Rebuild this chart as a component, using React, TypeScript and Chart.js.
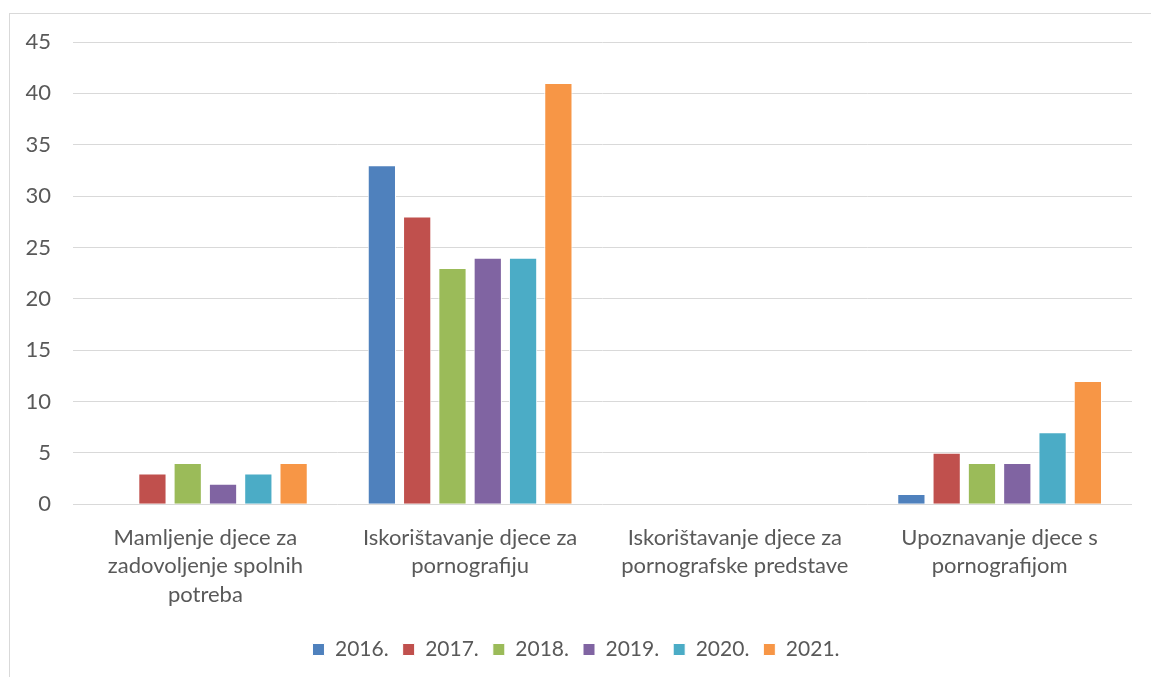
import React, { useEffect, useRef } from "react";
import { Chart, registerables } from "chart.js";

Chart.register(...registerables);

const categories: string[][] = [
  ["Mamljenje djece za", "zadovoljenje spolnih", "potreba"],
  ["Iskorištavanje djece za", "pornografiju"],
  ["Iskorištavanje djece za", "pornografske predstave"],
  ["Upoznavanje djece s", "pornografijom"],
];

const seriesNames = ["2016.", "2017.", "2018.", "2019.", "2020.", "2021."];
const values2016 = [0, 33, 0, 1];
const values2017 = [3, 28, 0, 5];
const values2018 = [4, 23, 0, 4];
const values2019 = [2, 24, 0, 4];
const values2020 = [3, 24, 0, 7];
const values2021 = [4, 41, 0, 12];
const seriesColors = ["#4F81BD", "#C0504D", "#9BBB59", "#8064A2", "#4BACC6", "#F79646"];

export default function App() {
  const ref = useRef<HTMLCanvasElement | null>(null);
  useEffect(() => {
    document.body.style.margin = "0";
    const all = [values2016, values2017, values2018, values2019, values2020, values2021];
    const chart = new Chart(ref.current!, {
      type: "bar",
      data: {
        labels: categories,
        datasets: all.map((d, i) => ({
          label: seriesNames[i],
          data: d,
          backgroundColor: seriesColors[i],
          borderColor: "#ffffff",
          borderWidth: 1,
          categoryPercentage: 0.8,
          barPercentage: 0.8,
        })),
      },
      options: {
        animation: false,
        responsive: false,
        layout: { padding: { left: 20, right: 19, top: 42, bottom: 7 } },
        plugins: {
          tooltip: { enabled: false },
          legend: {
            position: "bottom",
            labels: {
              boxWidth: 12,
              boxHeight: 12,
              padding: 14,
              color: "#595959",
              font: { family: "Lato", size: 21 },
            },
          },
        },
        scales: {
          x: {
            grid: { display: false },
            border: { display: false },
            ticks: {
              color: "#595959",
              font: { family: "Lato", size: 22, lineHeight: 1.3 },
              padding: 11,
              maxRotation: 0,
              autoSkip: false,
            },
            afterFit: (s: any) => {
              s.height = s.height + 5;
            },
          },
          y: {
            min: 0,
            max: 45,
            grid: { color: "#d9d9d9", lineWidth: 1, drawTicks: false },
            border: { display: false },
            ticks: {
              stepSize: 5,
              color: "#595959",
              font: { family: "Lato", size: 22 },
              padding: 22,
            },
            afterFit: (s: any) => {
              s.width = 53;
            },
          },
        },
      },
    });
    return () => chart.destroy();
  }, []);
  return (
    <div style={{ position: "relative", width: 1151, height: 677, overflow: "hidden", background: "#fff" }}>
      <div
        style={{
          position: "absolute",
          left: 9,
          top: 13,
          width: 1160,
          height: 700,
          border: "1px solid #d9d9d9",
        }}
      />
      <canvas ref={ref} width={1151} height={677} style={{ position: "absolute", left: 0, top: 0 }} />
    </div>
  );
}
